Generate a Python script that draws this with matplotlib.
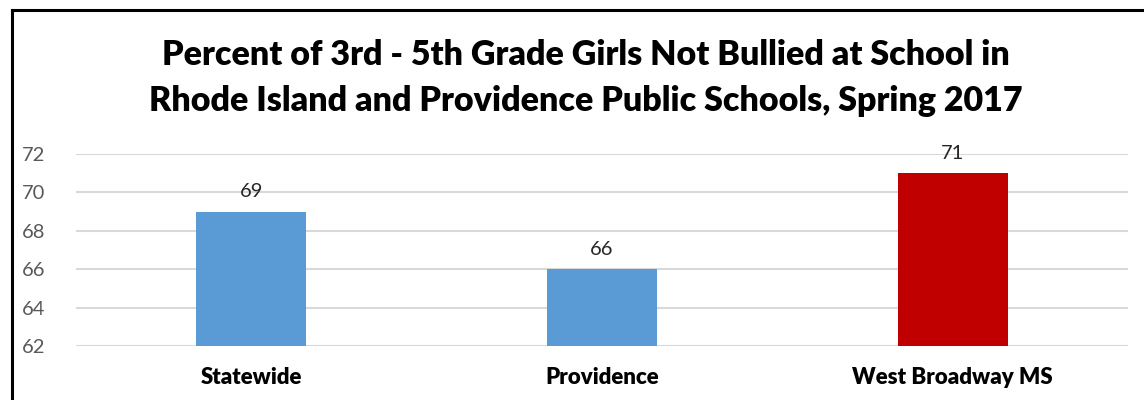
import matplotlib
matplotlib.use("Agg")
import matplotlib.pyplot as plt
from matplotlib.lines import Line2D

# data
categories = ["Statewide", "Providence", "West Broadway MS"]
values = [69, 66, 71]
bar_colors = ["#5B9BD5", "#5B9BD5", "#C00000"]
yticks = [62, 64, 66, 68, 70, 72]
title = ("Percent of 3rd - 5th Grade Girls Not Bullied at School in\n"
         "Rhode Island and Providence Public Schools, Spring 2017")

plt.rcParams['font.family'] = ['Lato', 'DejaVu Sans']

fig = plt.figure(figsize=(11.44, 4.0), dpi=100)
ax = fig.add_axes([76 / 1144, 54 / 400, 1052 / 1144, 192 / 400])

x = range(len(categories))
bars = ax.bar(x, [v - 62 for v in values], bottom=62, width=0.314,
              color=bar_colors, zorder=3)
for xi, v in zip(x, values):
    ax.text(xi, v + 0.6, str(v), ha='center', va='bottom',
            fontsize=14.5, color='#262626')

ax.set_xlim(-0.5, 2.5)
ax.set_ylim(62, 72)
ax.set_yticks(yticks)
ax.set_xticks(list(x))
ax.set_xticklabels(categories, fontsize=16, fontweight='heavy', color='black')
ax.tick_params(axis='y', labelsize=14.5, labelcolor='#595959', length=0, pad=22)
ax.tick_params(axis='x', length=0, pad=15)
ax.grid(axis='y', color='#D9D9D9', linewidth=1.5, zorder=0)
for s in ax.spines.values():
    s.set_visible(False)

fig.text(586 / 1144, 1 - 78 / 400, title, ha='center', va='center',
         fontsize=24.5, fontweight='heavy', color='black', linespacing=1.52)

# outer border: left and top only
fig.add_artist(Line2D([12 / 1144, 12 / 1144], [0, 1 - 10 / 400],
                      color='black', linewidth=2.2, transform=fig.transFigure))
fig.add_artist(Line2D([12 / 1144, 1], [1 - 10 / 400, 1 - 10 / 400],
                      color='black', linewidth=2.2, transform=fig.transFigure))

fig.savefig("out.png", dpi=100, facecolor='white')
